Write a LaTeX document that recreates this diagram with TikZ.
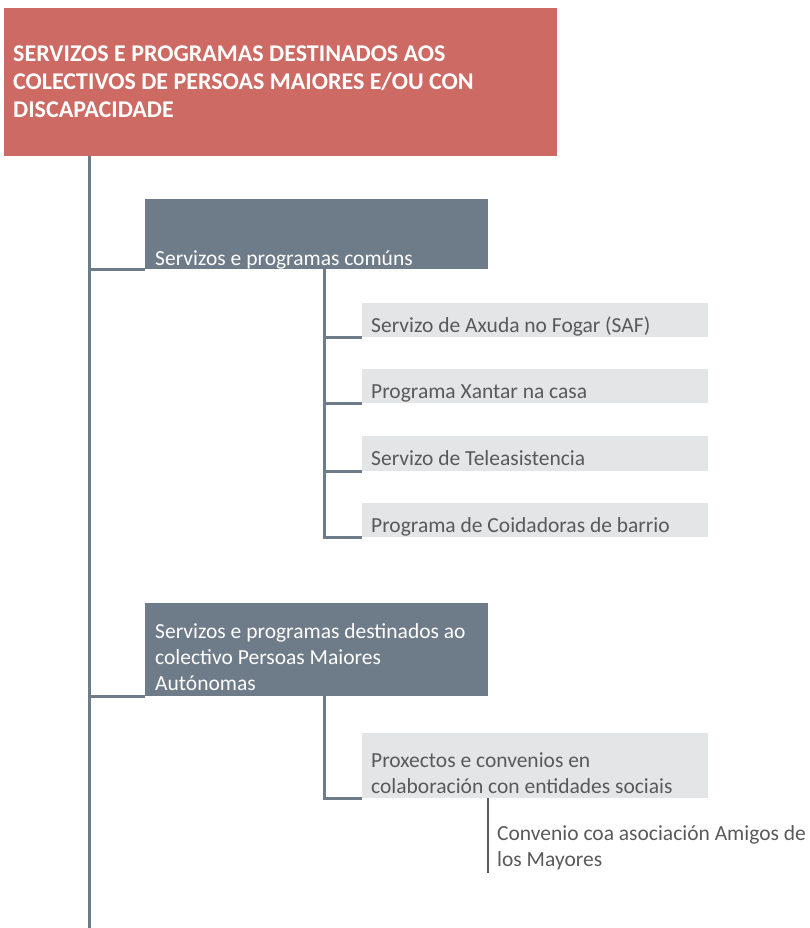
\documentclass[tikz,border=0pt]{standalone}
\usepackage{fontspec}
\setmainfont{Carlito}
\usepackage{xcolor}
\usetikzlibrary{positioning,calc}
\definecolor{rootred}{HTML}{CC6A63}
\definecolor{slate}{HTML}{6E7B88}
\definecolor{leafgrey}{HTML}{E4E5E7}
\definecolor{leafink}{HTML}{595959}

\begin{document}
\begin{tikzpicture}[
    x=1pt, y=-1pt,
    font=\fontsize{21.5}{25.8}\selectfont,
    box/.style={
        rectangle,
        inner sep=0pt,
        anchor=north west
    },
    rootbox/.style={box, fill=rootred, minimum width=553pt, minimum height=148pt},
    groupbox/.style={box, fill=slate, minimum width=343pt},
    leafbox/.style={box, fill=leafgrey, minimum width=346pt},
    boxtext/.style={inner sep=0pt, anchor=base west, align=left},
    link/.style={draw=slate, line width=3pt},
    thinlink/.style={draw=leafink, line width=2pt}
]
\useasboundingbox (0,0) rectangle (810,928);

% ----------------------------------------------------------
% BOXES (text nodes sit on the baseline of their last line)
% ----------------------------------------------------------

\node[rootbox] (root) at (4,8) {};
\node[boxtext, white, font=\bfseries\fontsize{24}{28}\selectfont] (roottext) at (13,118)
    {SERVIZOS E PROGRAMAS DESTINADOS AOS\\COLECTIVOS DE PERSOAS MAIORES E/OU CON\\DISCAPACIDADE};

\node[groupbox, minimum height=70pt] (comuns) at (145,199) {};
\node[boxtext, white] (comunstext) at (155,265) {Servizos e programas comúns};

\node[leafbox, minimum height=34pt] (saf) at (362,303) {};
\node[boxtext, leafink] (saftext) at (371,332) {Servizo de Axuda no Fogar (SAF)};
\node[leafbox, minimum height=34pt] (xantar) at (362,369) {};
\node[boxtext, leafink] (xantartext) at (371,398) {Programa Xantar na casa};
\node[leafbox, minimum height=35pt] (tele) at (362,436) {};
\node[boxtext, leafink] (teletext) at (371,465) {Servizo de Teleasistencia};
\node[leafbox, minimum height=34pt] (barrio) at (362,503) {};
\node[boxtext, leafink] (barriotext) at (371,532) {Programa de Coidadoras de barrio};

\node[groupbox, minimum height=93pt] (autonomas) at (145,603) {};
\node[boxtext, white] (autonomastext) at (155,690)
    {Servizos e programas destinados ao\\colectivo Persoas Maiores\\Autónomas};

\node[leafbox, minimum height=65pt] (proxectos) at (362,733) {};
\node[boxtext, leafink] (proxectostext) at (371,793)
    {Proxectos e convenios en\\colaboración con entidades sociais};

\node[boxtext, leafink] (convenio) at (497,866)
    {Convenio coa asociación Amigos de\\los Mayores};

% ----------------------------------------------------------
% LINKS
% ----------------------------------------------------------

\coordinate (trunktop) at (89,156);
\coordinate (trunkend) at (89,928);
\coordinate (comunsfoot) at (324,269);
\coordinate (autonomasfoot) at (324,696);
\coordinate (conveniotop) at (488,798);
\coordinate (conveniofoot) at (488,873);

\draw[link] (trunktop) -- (trunkend);
\draw[link] (trunktop |- comuns.south west) -- (comuns.south west);
\draw[link] (trunktop |- autonomas.south west) -- (autonomas.south west);

\draw[link] (comunsfoot) |- (barrio.south west);
\draw[link] (comunsfoot |- saf.south west) -- (saf.south west);
\draw[link] (comunsfoot |- xantar.south west) -- (xantar.south west);
\draw[link] (comunsfoot |- tele.south west) -- (tele.south west);

\draw[link] (autonomasfoot) |- (proxectos.south west);
\draw[thinlink] (conveniotop) -- (conveniofoot);

\end{tikzpicture}
\end{document}
